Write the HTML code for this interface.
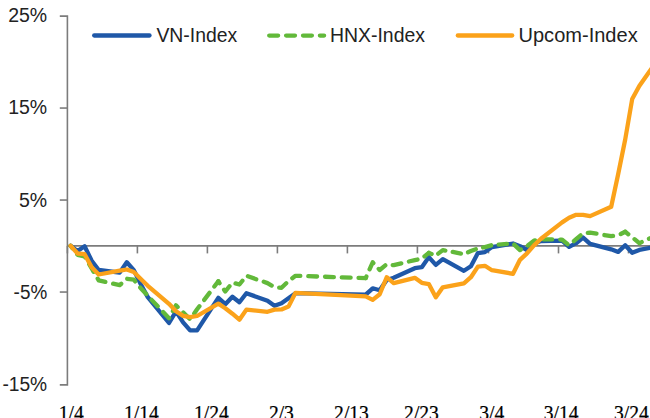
<!DOCTYPE html>
<html><head><meta charset="utf-8"><title>chart</title>
<style>
html,body{margin:0;padding:0;background:#fff;}
body{width:650px;height:418px;overflow:hidden;position:relative;}
svg{position:absolute;left:0;top:0;display:block;}
.yl{font-family:"Liberation Sans",sans-serif;font-size:19.5px;fill:#222;text-anchor:end;}
.lg{font-family:"Liberation Sans",sans-serif;font-size:19.3px;fill:#222;}
.xl{font-family:"Liberation Serif",serif;font-size:21.5px;fill:#000;stroke:#000;stroke-width:0.25px;text-anchor:middle;}
</style></head><body>
<svg width="650" height="418" viewBox="0 0 650 418">
<rect x="0" y="0" width="650" height="418" fill="#ffffff"/>

<g stroke="#7c7c7c" stroke-width="1.6" fill="none">
<path d="M59.8,16.1 H67.4 V384.9 H59.8"/>
<line x1="59.8" y1="108.05" x2="67.4" y2="108.05"/>
<line x1="59.8" y1="200.05" x2="67.4" y2="200.05"/>
<line x1="59.8" y1="292.05" x2="67.4" y2="292.05"/>
<line x1="67.4" y1="245.9" x2="650" y2="245.9"/>
<line x1="67.4" y1="245.9" x2="67.4" y2="253.4"/>
<line x1="137.4" y1="245.9" x2="137.4" y2="253.4"/>
<line x1="207.4" y1="245.9" x2="207.4" y2="253.4"/>
<line x1="277.4" y1="245.9" x2="277.4" y2="253.4"/>
<line x1="347.4" y1="245.9" x2="347.4" y2="253.4"/>
<line x1="417.4" y1="245.9" x2="417.4" y2="253.4"/>
<line x1="488.5" y1="245.9" x2="488.5" y2="253.4"/>
<line x1="558.5" y1="245.9" x2="558.5" y2="253.4"/>
<line x1="628.5" y1="245.9" x2="628.5" y2="253.4"/>
</g>
<text class="yl" x="47.2" y="21.9">25%</text>
<text class="yl" x="47.2" y="114.2">15%</text>
<text class="yl" x="47.2" y="206.5">5%</text>
<text class="yl" x="47.2" y="298.8" textLength="33.6" lengthAdjust="spacingAndGlyphs">-5%</text>
<text class="yl" x="47.2" y="391.0" textLength="44.8" lengthAdjust="spacingAndGlyphs">-15%</text>
<text class="xl" transform="translate(71.3,419.6) scale(0.91,1)" x="0" y="0">1/4</text>
<text class="xl" transform="translate(141.4,419.6) scale(0.91,1)" x="0" y="0">1/14</text>
<text class="xl" transform="translate(211.4,419.6) scale(0.91,1)" x="0" y="0">1/24</text>
<text class="xl" transform="translate(281.4,419.6) scale(0.91,1)" x="0" y="0">2/3</text>
<text class="xl" transform="translate(351.5,419.6) scale(0.91,1)" x="0" y="0">2/13</text>
<text class="xl" transform="translate(421.5,419.6) scale(0.91,1)" x="0" y="0">2/23</text>
<text class="xl" transform="translate(491.8,419.6) scale(0.91,1)" x="0" y="0">3/4</text>
<text class="xl" transform="translate(561.2,419.6) scale(0.91,1)" x="0" y="0">3/14</text>
<text class="xl" transform="translate(631.4,419.6) scale(0.91,1)" x="0" y="0">3/24</text>
<path d="M70.6,245.8 L77.6,251.1 L84.6,246.3 L91.7,260.8 L98.7,270.0 L119.7,272.6 L126.8,262.2 L133.8,270.1 L140.8,284.2 L147.8,297.2 L169.0,323.0 L176.0,311.3 L183.1,322.3 L190.1,330.4 L197.1,330.4 L218.3,297.8 L225.3,304.2 L232.4,296.8 L239.4,302.2 L246.4,293.2 L267.5,300.8 L274.5,305.8 L281.5,303.2 L288.5,298.2 L295.5,293.2 L365.7,294.7 L372.7,288.3 L379.7,290.3 L386.7,280.0 L393.7,277.8 L414.8,268.2 L421.8,267.2 L428.8,257.1 L435.8,264.9 L442.8,259.2 L463.9,270.8 L470.9,266.2 L477.9,253.1 L484.9,252.1 L491.9,247.1 L513.0,243.5 L520.0,246.2 L527.0,250.0 L534.0,243.6 L541.0,241.1 L562.1,240.6 L569.1,246.9 L576.1,243.2 L583.1,237.6 L590.1,243.8 L611.2,249.3 L618.2,251.9 L625.2,245.3 L632.2,252.7 L639.3,249.9 L660.3,246.0" fill="none" stroke="#1f58a8" stroke-width="4.3" stroke-linejoin="round" stroke-linecap="round"/>
<path d="M70.6,245.8 L77.6,254.8 L84.6,256.4 L91.7,268.5 L98.7,280.4 L119.7,285.2 L126.8,278.7 L133.8,279.7 L140.8,288.2 L147.8,295.8 L169.0,318.3 L176.0,305.3 L183.1,312.3 L190.1,319.3 L197.1,309.3 L218.3,281.3" fill="none" stroke="#62b93a" stroke-width="4.3" stroke-linejoin="round" stroke-linecap="round" stroke-dasharray="8.84 7.95" stroke-dashoffset="5.96"/>
<path d="M218.3,281.3 L225.3,291.5 L232.4,282.6 L239.4,284.5 L246.4,275.8 L267.5,283.1 L274.5,287.1 L281.5,287.8 L288.5,281.1 L295.5,275.8 L365.7,278.1" fill="none" stroke="#62b93a" stroke-width="4.3" stroke-linejoin="round" stroke-linecap="round" stroke-dasharray="8.83 7.94" stroke-dashoffset="6.55"/>
<path d="M365.7,278.1 L372.7,262.3 L379.7,270.0 L386.7,264.2 L393.7,265.2 L414.8,260.1 L421.8,258.6 L428.8,252.9" fill="none" stroke="#62b93a" stroke-width="4.3" stroke-linejoin="round" stroke-linecap="round" stroke-dasharray="8.77 7.88" stroke-dashoffset="7.09"/>
<path d="M428.8,252.9 L435.8,255.5 L442.8,250.1 L463.9,254.1 L470.9,251.1 L477.9,248.5 L484.9,247.1 L491.9,245.1 L513.0,243.5" fill="none" stroke="#62b93a" stroke-width="4.3" stroke-linejoin="round" stroke-linecap="round" stroke-dasharray="8.36 7.52" stroke-dashoffset="5.36"/>
<path d="M513.0,243.5 L520.0,250.1 L527.0,246.2 L534.0,240.6 L541.0,239.3 L562.1,239.6 L569.1,245.3 L576.1,239.2 L583.1,233.2" fill="none" stroke="#62b93a" stroke-width="4.3" stroke-linejoin="round" stroke-linecap="round" stroke-dasharray="9.01 8.10" stroke-dashoffset="15.48"/>
<path d="M583.1,233.2 L590.1,232.6 L611.2,236.2 L618.2,235.2 L625.2,231.8" fill="none" stroke="#62b93a" stroke-width="4.3" stroke-linejoin="round" stroke-linecap="round" stroke-dasharray="8.85 7.96" stroke-dashoffset="12.14"/>
<path d="M625.2,231.8 L632.2,237.2 L639.3,243.2 L660.3,233.5" fill="none" stroke="#62b93a" stroke-width="4.3" stroke-linejoin="round" stroke-linecap="round" stroke-dasharray="8.90 8.00" stroke-dashoffset="5.00"/>
<path d="M70.6,245.8 L77.6,253.5 L84.6,254.2 L91.7,267.3 L98.7,274.5 L119.7,270.7 L126.8,269.5 L133.8,272.1 L140.8,279.1 L147.8,285.8 L169.0,303.8 L176.0,311.2 L183.1,315.9 L190.1,317.2 L197.1,316.0 L218.3,303.6 L225.3,308.2 L232.4,313.7 L239.4,319.7 L246.4,309.6 L267.5,311.8 L274.5,309.6 L281.5,309.4 L288.5,306.6 L295.5,292.8 L365.7,296.3 L372.7,299.9 L379.7,294.3 L386.7,277.2 L393.7,283.2 L414.8,277.8 L421.8,282.8 L428.8,284.1 L435.8,297.3 L442.8,287.3 L463.9,283.3 L470.9,277.2 L477.9,266.6 L484.9,265.8 L491.9,270.2 L513.0,273.8 L520.0,259.8 L527.0,253.3 L534.0,245.4 L541.0,238.8 L562.1,222.4 L569.1,217.8 L576.1,214.8 L583.1,214.8 L590.1,216.1 L611.2,206.7 L618.2,174.0 L625.2,139.5 L632.2,99.0 L639.3,86.0 L660.3,56.0" fill="none" stroke="#fba21a" stroke-width="4.3" stroke-linejoin="round" stroke-linecap="round"/>
<line x1="94.2" y1="35.5" x2="149.5" y2="35.5" stroke="#1f58a8" stroke-width="4.3" stroke-linecap="round"/>
<line x1="269.2" y1="35.6" x2="324.1" y2="35.6" stroke="#62b93a" stroke-width="4.3" stroke-linecap="round" stroke-dasharray="8.9 8"/>
<line x1="457.8" y1="35.5" x2="512.2" y2="35.5" stroke="#fba21a" stroke-width="4.3" stroke-linecap="round"/>
<text class="lg" x="156.4" y="41.5" textLength="80.8" lengthAdjust="spacingAndGlyphs">VN-Index</text>
<text class="lg" x="330.0" y="41.5" textLength="95" lengthAdjust="spacingAndGlyphs">HNX-Index</text>
<text class="lg" x="518.5" y="41.5" textLength="119.2" lengthAdjust="spacingAndGlyphs">Upcom-Index</text>
</svg></body></html>
